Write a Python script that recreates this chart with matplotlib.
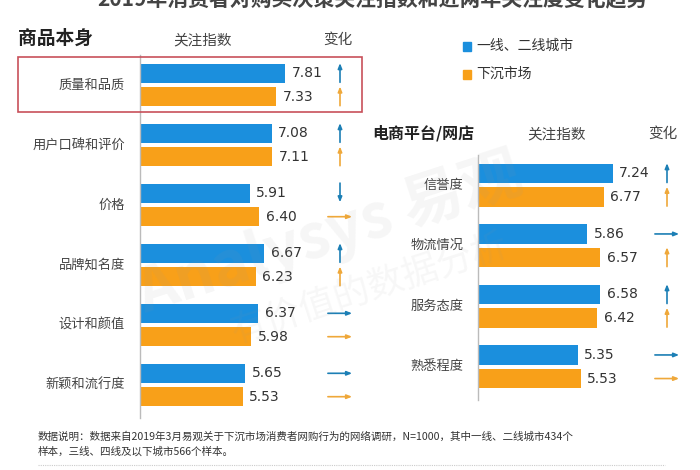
"""2019 consumer attention index by category: top-tier cities vs lower-tier markets."""

import matplotlib.pyplot as plt
from matplotlib.lines import Line2D
from matplotlib.patches import Rectangle

plt.rcParams["font.family"] = ["Noto Sans CJK SC", "DejaVu Sans"]

BLUE = "#1B8FDD"
ORANGE = "#F8A019"
BLUE_ARROW = "#1C7FB5"
ORANGE_ARROW = "#EFA83A"
TEXT = "#333333"
AXIS = "#BBBBBB"

# ---- data ----
goods_cats = ["质量和品质", "用户口碑和评价", "价格", "品牌知名度", "设计和颜值", "新颖和流行度"]
goods_tier12 = [7.81, 7.08, 5.91, 6.67, 6.37, 5.65]
goods_sink = [7.33, 7.11, 6.40, 6.23, 5.98, 5.53]
goods_chg_tier12 = ["up", "up", "down", "up", "right", "right"]
goods_chg_sink = ["up", "up", "right", "up", "right", "right"]

shop_cats = ["信誉度", "物流情况", "服务态度", "熟悉程度"]
shop_tier12 = [7.24, 5.86, 6.58, 5.35]
shop_sink = [6.77, 6.57, 6.42, 5.53]
shop_chg_tier12 = ["up", "right", "up", "right"]
shop_chg_sink = ["up", "up", "up", "right"]

W, H = 700, 470
fig = plt.figure(figsize=(W / 100, H / 100), dpi=100)
fig.patch.set_facecolor("white")

PX_PER_UNIT = 18.6
BAR_H = 0.32
OFF = 0.195


def px_axes(x0, y0, x1, y1):
    """Axes placed by pixel box (top-left origin)."""
    return fig.add_axes([x0 / W, 1 - y1 / H, (x1 - x0) / W, (y1 - y0) / H])


def draw_arrow(ax, x, y, kind, color):
    if kind == "up":
        tail, tip = (x, y + 0.15), (x, y - 0.17)
    elif kind == "down":
        tail, tip = (x, y - 0.17), (x, y + 0.15)
    else:
        tail, tip = (x - 0.65, y), (x + 0.65, y)
    ax.annotate("", xy=tip, xytext=tail, annotation_clip=False,
                arrowprops=dict(arrowstyle="-|>,head_length=0.3,head_width=0.12",
                                color=color, lw=1.2, shrinkA=0, shrinkB=0))


def panel(ax, cats, v1, v2, c1, c2, arrow_x):
    n = len(cats)
    ys = list(range(n))
    ax.barh([y - OFF for y in ys], v1, height=BAR_H, color=BLUE)
    ax.barh([y + OFF for y in ys], v2, height=BAR_H, color=ORANGE)
    for y, a, b, ka, kb, cat in zip(ys, v1, v2, c1, c2, cats):
        ax.text(a + 0.35, y - OFF, f"{a:.2f}", ha="left", va="center",
                fontsize=10, color=TEXT, family="DejaVu Sans")
        ax.text(b + 0.35, y + OFF, f"{b:.2f}", ha="left", va="center",
                fontsize=10, color=TEXT, family="DejaVu Sans")
        ax.text(-0.8, y, cat, ha="right", va="center", fontsize=9.5, color="#444444")
        draw_arrow(ax, arrow_x, y - OFF, ka, BLUE_ARROW)
        draw_arrow(ax, arrow_x, y + OFF, kb, ORANGE_ARROW)
    ax.set_ylim(n - 0.5, -0.5)
    ax.axis("off")
    ax.add_line(Line2D([0, 0], [-0.5, n - 0.45], color=AXIS, lw=1, clip_on=False))


# left panel: product itself
axl = px_axes(140, 55, 370, 415)
axl.set_xlim(0, 230 / PX_PER_UNIT)
panel(axl, goods_cats, goods_tier12, goods_sink, goods_chg_tier12, goods_chg_sink,
      (340 - 140) / PX_PER_UNIT)

# right panel: platform / shop
axr = px_axes(478, 155, 700, 397)
axr.set_xlim(0, 222 / PX_PER_UNIT)
panel(axr, shop_cats, shop_tier12, shop_sink, shop_chg_tier12, shop_chg_sink,
      (667 - 478) / PX_PER_UNIT)


def ftext(x, y, s, **kw):
    fig.text(x / W, 1 - y / H, s, **kw)


# title (cropped at the top of the screenshot, as in the source image)
ftext(372, -1, "2019年消费者对购买决策关注指数和近两年关注度变化趋势",
      ha="center", va="center", fontsize=15, fontweight="bold", color="#444444")

# headers
ftext(18, 38, "商品本身", ha="left", va="center", fontsize=13.5, fontweight="bold", color="#222222")
ftext(203, 40, "关注指数", ha="center", va="center", fontsize=10.5, color="#444444")
ftext(338, 40, "变化", ha="center", va="center", fontsize=10.5, color="#444444")
ftext(372, 133, "电商平台/网店", ha="left", va="center", fontsize=11.5, fontweight="bold", color="#222222")
ftext(557, 134, "关注指数", ha="center", va="center", fontsize=10.5, color="#444444")
ftext(663, 134, "变化", ha="center", va="center", fontsize=10.5, color="#444444")

# legend
fig.patches.append(Rectangle((463 / W, 1 - 51 / H), 8 / W, 9 / H, color=BLUE,
                             transform=fig.transFigure))
ftext(476, 46, "一线、二线城市", ha="left", va="center", fontsize=10, color=TEXT)
fig.patches.append(Rectangle((463 / W, 1 - 79 / H), 8 / W, 9 / H, color=ORANGE,
                             transform=fig.transFigure))
ftext(476, 74, "下沉市场", ha="left", va="center", fontsize=10, color=TEXT)

# highlight box around first row
fig.patches.append(Rectangle((18 / W, 1 - 112 / H), 344 / W, 55 / H, fill=False,
                             edgecolor="#C8505A", lw=1.2, transform=fig.transFigure))

# faint watermark
ftext(330, 235, "Analysys 易观", ha="center", va="center", fontsize=44,
      color="#999999", alpha=0.09, rotation=18, fontweight="bold")
ftext(370, 290, "有价值的数据分析", ha="center", va="center", fontsize=26,
      color="#999999", alpha=0.08, rotation=18)

# footnote
ftext(38, 437, "数据说明：数据来自2019年3月易观关于下沉市场消费者网购行为的网络调研，N=1000，其中一线、二线城市434个",
      ha="left", va="center", fontsize=7.6, color=TEXT)
ftext(38, 451, "样本，三线、四线及以下城市566个样本。",
      ha="left", va="center", fontsize=7.6, color=TEXT)
fig.add_artist(Line2D([38 / W, 665 / W], [1 - 465 / H, 1 - 465 / H], color="#CCCCCC",
                      lw=0.8, ls=(0, (1, 1)), transform=fig.transFigure))

fig.savefig("out.png", dpi=100, facecolor="white")
